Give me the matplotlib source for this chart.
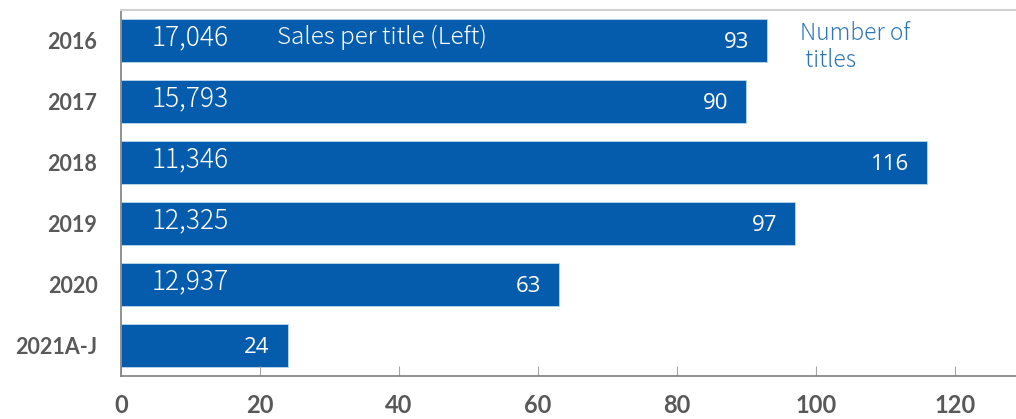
import matplotlib
matplotlib.use("Agg")
import matplotlib.pyplot as plt

categories = ["2016", "2017", "2018", "2019", "2020", "2021A-J"]
num_titles = [93, 90, 116, 97, 63, 24]
sales_per_title = ["17,046", "15,793", "11,346", "12,325", "12,937", ""]
x_ticks = [0, 20, 40, 60, 80, 100, 120]

BAR = "#055CAC"
GRAY = "#595959"

fig = plt.figure(figsize=(10.16, 4.19), dpi=100)
ax = fig.add_axes([121/1016, 43/419, 895/1016, 366/419])

y = list(range(len(categories)))
ax.barh(y, num_titles, height=0.70, color=BAR, edgecolor="#BDD7EE", linewidth=0.6)
ax.set_ylim(len(categories) - 0.5, -0.5)
ax.set_xlim(0, 128.8)

for yi, v, s in zip(y, num_titles, sales_per_title):
    ax.annotate(str(v), xy=(v, yi), xytext=(-18, -2), textcoords="offset pixels",
                ha="right", va="center", color="white", fontsize=16,
                family="Open Sans")
    if s:
        ax.annotate(s, xy=(0, yi), xytext=(31, 3), textcoords="offset pixels",
                    ha="left", va="center", color="white", fontsize=19,
                    family="Noto Sans CJK JP", fontweight="light")

ax.annotate("Sales per title (Left)", xy=(0, 0), xytext=(156, 3), textcoords="offset pixels",
            ha="left", va="center", color="white", fontsize=17.5,
            family="Noto Sans CJK JP", fontweight="light")
ax.text(800/1016, (419-47)/419, "Number of\n titles", transform=fig.transFigure,
        ha="left", va="center", color="#2E75B6", fontsize=16.5,
        family="Noto Sans CJK JP", fontweight="light", linespacing=1.1)

ax.set_yticks(y)
ax.set_yticklabels(categories, fontsize=15.5, fontweight="bold", color=GRAY, family="Lato")
ax.tick_params(axis="y", length=0, pad=17)
ax.set_xticks(x_ticks)
ax.set_xticklabels([str(t) for t in x_ticks], fontsize=17, fontweight="bold", color=GRAY, family="Lato")
ax.tick_params(axis="x", direction="in", length=7, color="#A6A6A6", pad=13)

for side in ["left", "bottom"]:
    ax.spines[side].set_color("#7F7F7F")
    ax.spines[side].set_linewidth(1.2)
ax.spines["top"].set_color("#D0D0D0")
ax.spines["top"].set_linewidth(1.5)
ax.spines["right"].set_visible(False)

fig.savefig("out.png", dpi=100)
